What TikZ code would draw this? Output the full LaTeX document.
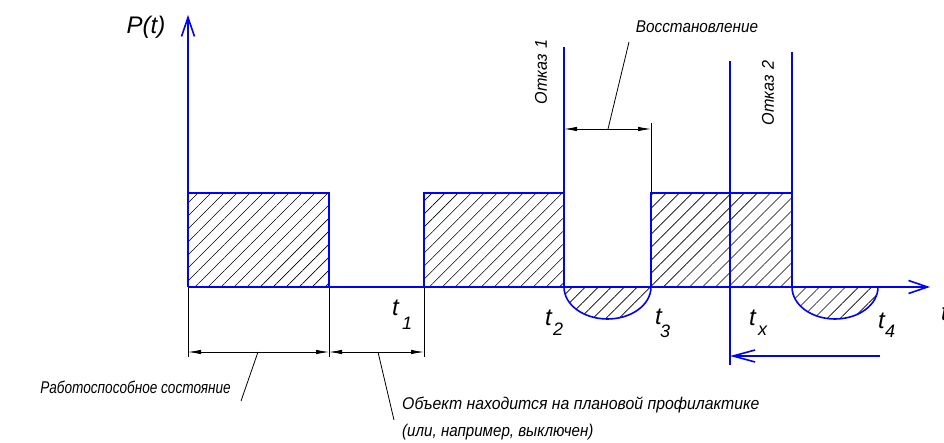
\documentclass[tikz,border=0pt]{standalone}
\usepackage{fontspec}
\setmainfont{Liberation Sans}
\usetikzlibrary{arrows.meta,patterns.meta}
\definecolor{axblue}{RGB}{0,0,255}
\newcommand{\narrowtext}[2]{\scalebox{#1}[1]{#2}}
\tikzset{
  blueline/.style={draw=axblue, line width=1.6pt},
  dimline/.style={draw=black, line width=0.8pt},
  dimarrows/.style={dimline, {Latex[length=13pt,width=4.5pt]}-{Latex[length=13pt,width=4.5pt]}},
  axisarrow/.style={blueline, -{Straight Barb[length=19pt,width=13pt,line width=1.6pt]}},
  hatch/.style={pattern={Lines[angle=45,distance=9.2pt,line width=0.6pt]}},
  lbl/.style={font=\fontsize{17}{20}\selectfont\itshape, inner sep=0pt},
  tlbl/.style={font=\fontsize{24}{26}\selectfont\itshape, inner sep=0pt, anchor=base west},
  sublbl/.style={font=\fontsize{18}{20}\selectfont\itshape, inner sep=0pt, anchor=base west},
}
\begin{document}
\begin{tikzpicture}[x=1pt,y=-1pt]
\useasboundingbox (0,0) rectangle (944,443);
% key coordinates
\coordinate (O) at (188,287);
\coordinate (Ytop) at (188,15);
\coordinate (Xend) at (930,287);
% hatched areas
\fill[hatch] (188,193) rectangle (329,287);
\fill[hatch] (424,193) rectangle (564,287);
\fill[hatch] (651,193) rectangle (792,287);
\fill[hatch] (564,287) arc[start angle=180,end angle=0,x radius=43.5,y radius=32] -- cycle;
\fill[hatch] (792,287) arc[start angle=180,end angle=0,x radius=43,y radius=32] -- cycle;
% extension and dimension lines (black)
\coordinate (e1a) at (188,287); \coordinate (e1b) at (188,357);
\coordinate (e2a) at (329,287); \coordinate (e2b) at (329,357);
\coordinate (e3a) at (424,287); \coordinate (e3b) at (424,357);
\draw[dimline] (e1a) -- (e1b);
\draw[dimline] (e2a) -- (e2b);
\draw[dimline] (e3a) -- (e3b);
\coordinate (d1) at (188,352); \coordinate (d2) at (329,352); \coordinate (d3) at (424,352);
\draw[dimarrows] (d1) -- (d2);
\draw[dimarrows] (d2) -- (d3);
\coordinate (e4a) at (651,123); \coordinate (e4b) at (651,193);
\draw[dimline] (e4a) -- (e4b);
\coordinate (r1) at (564,129); \coordinate (r2) at (651,129);
\draw[dimarrows] (r1) -- (r2);
% leaders and labels
\node[lbl] (work) at (135.5,387) {\narrowtext{0.8}{Работоспособное состояние}};
\node[lbl, anchor=west] (obj1) at (402,405) {\narrowtext{0.93}{Объект находится на плановой профилактике}};
\node[lbl, anchor=west] (obj2) at (402,432) {\narrowtext{0.89}{(или, например, выключен)}};
\node[lbl] (rest) at (697,27) {\narrowtext{0.9}{Восстановление}};
\node[lbl, rotate=90] (otk1) at (541,72) {\narrowtext{0.95}{Отказ\,\,1}};
\node[lbl, rotate=90] (otk2) at (768,93) {\narrowtext{0.95}{Отказ\,\,2}};
\coordinate (L1a) at (258,352); \coordinate (L1b) at (241,401);
\coordinate (L2a) at (378,352); \coordinate (L2b) at (394,420);
\coordinate (L3a) at (608,129); \coordinate (L3b) at (629,42);
\draw[dimline] (L1a) -- (L1b);
\draw[dimline] (L2a) -- (L2b);
\draw[dimline] (L3a) -- (L3b);
% blue signal
\draw[blueline] (188,287) -- (188,193) -- (329,193) -- (329,287);
\draw[blueline] (424,287) -- (424,193) -- (564,193);
\draw[blueline] (564,47) -- (564,287);
\draw[blueline] (651,287) -- (651,193) -- (792,193);
\draw[blueline] (792,52) -- (792,287);
\draw[blueline] (730,61) -- (730,365);
\draw[blueline] (564,287) arc[start angle=180,end angle=0,x radius=43.5,y radius=32];
\draw[blueline] (792,287) arc[start angle=180,end angle=0,x radius=43,y radius=32];
\draw[axisarrow] (O) -- (Xend);
\draw[axisarrow] (O) -- (Ytop);
\coordinate (txs) at (880,356); \coordinate (txe) at (730,356);
\draw[blueline, -{Straight Barb[length=22pt,width=12pt,line width=1.6pt]}] (txs) -- (txe);
% axis labels
\node[font=\fontsize{24}{26}\selectfont\itshape, inner sep=0pt] (P) at (146,27) {P(t)};
\node[tlbl] (t1) at (392,316) {t}; \node[sublbl] (s1) at (402,329) {1};
\node[tlbl] (t2) at (545,325) {t}; \node[sublbl] (s2) at (553,335) {2};
\node[tlbl] (t3) at (655,324) {t}; \node[sublbl] (s3) at (660,337) {3};
\node[tlbl] (tx) at (749,325) {t}; \node[sublbl] (sx) at (758,335) {x};
\node[tlbl] (t4) at (878,328) {t}; \node[sublbl] (s4) at (885,337) {4};
\node[tlbl] (tt) at (941,320) {t};
\end{tikzpicture}
\end{document}
